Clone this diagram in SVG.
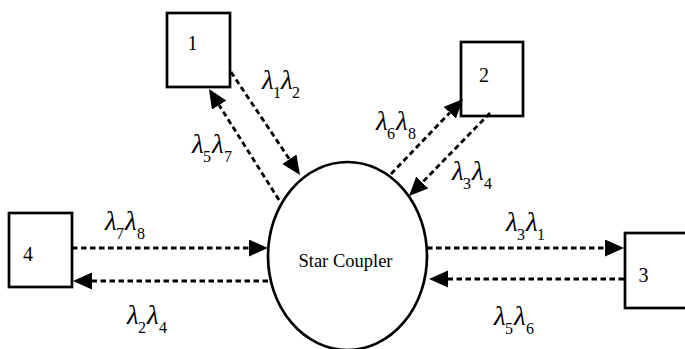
<svg xmlns="http://www.w3.org/2000/svg" width="685" height="349" viewBox="0 0 685 349">
  <style>
    .box { fill: #fff; stroke: #000; stroke-width: 2.7; }
    .hub { fill: #fff; stroke: #000; stroke-width: 2.7; }
    .num { font-family: "Liberation Serif", "Times New Roman", serif; font-size: 20px; fill: #000; text-anchor: middle; }
    .title { font-family: "Liberation Serif", "Times New Roman", serif; font-size: 18.5px; fill: #000; text-anchor: middle; }
    .lam { font-family: "Liberation Serif", "Times New Roman", serif; font-size: 27px; font-style: italic; fill: #000; }
    .sub { font-size: 16px; font-style: normal; }
    .link { fill: none; stroke: #000; stroke-width: 2.8; stroke-dasharray: 5.5 3.5; marker-end: url(#head); }
  </style>
  <defs>
    <marker id="head" markerUnits="userSpaceOnUse" markerWidth="20" markerHeight="18" refX="0" refY="8.5" orient="auto">
      <path d="M0,0 L19,8.5 L0,17 Z" fill="#000"/>
    </marker>
  </defs>

  <!-- star coupler -->
  <g id="coupler">
    <ellipse class="hub" cx="347.5" cy="256" rx="79.5" ry="94"/>
    <text class="title" x="345.5" y="267">Star Coupler</text>
  </g>

  <!-- stations -->
  <g id="node1">
    <rect class="box" x="167" y="13" width="63" height="74"/>
    <text class="num" x="192.5" y="50">1</text>
  </g>
  <g id="node2">
    <rect class="box" x="461" y="42" width="62" height="74"/>
    <text class="num" x="484" y="82">2</text>
  </g>
  <g id="node3">
    <rect class="box" x="625" y="233" width="63" height="75"/>
    <text class="num" x="643.5" y="282">3</text>
  </g>
  <g id="node4">
    <rect class="box" x="9" y="213" width="63" height="74"/>
    <text class="num" x="28" y="261">4</text>
  </g>

  <!-- dashed links; each line stops at the base of its arrowhead -->
  <g id="links">
    <line class="link" x1="231" y1="72" x2="289.4" y2="159.2"/>
    <line class="link" x1="279" y1="200" x2="219.1" y2="105.1"/>
    <line class="link" x1="391" y1="174" x2="449.8" y2="112.7"/>
    <line class="link" x1="490" y1="113" x2="422.3" y2="182.4"/>
    <line class="link" x1="72" y1="248" x2="249" y2="248"/>
    <line class="link" x1="268" y1="281" x2="92" y2="281"/>
    <line class="link" x1="427" y1="248" x2="605" y2="248"/>
    <line class="link" x1="624" y1="279" x2="448" y2="279"/>
  </g>

  <!-- wavelength labels: lambda with lowered index digits -->
  <g id="labels">
    <text class="lam" x="262" y="89">λ<tspan class="sub" x="273" y="98">1</tspan><tspan x="281" y="89">λ</tspan><tspan class="sub" x="292" y="98">2</tspan></text>
    <text class="lam" x="192" y="153">λ<tspan class="sub" x="203" y="162">5</tspan><tspan x="212" y="153">λ</tspan><tspan class="sub" x="224" y="162">7</tspan></text>
    <text class="lam" x="376" y="130">λ<tspan class="sub" x="387" y="139">6</tspan><tspan x="396" y="130">λ</tspan><tspan class="sub" x="408" y="139">8</tspan></text>
    <text class="lam" x="452" y="180">λ<tspan class="sub" x="463" y="189">3</tspan><tspan x="472" y="180">λ</tspan><tspan class="sub" x="484" y="189">4</tspan></text>
    <text class="lam" x="105" y="230">λ<tspan class="sub" x="116" y="239">7</tspan><tspan x="125" y="230">λ</tspan><tspan class="sub" x="137" y="239">8</tspan></text>
    <text class="lam" x="127" y="324">λ<tspan class="sub" x="138" y="333">2</tspan><tspan x="147" y="324">λ</tspan><tspan class="sub" x="159" y="333">4</tspan></text>
    <text class="lam" x="506" y="231">λ<tspan class="sub" x="517" y="240">3</tspan><tspan x="526" y="231">λ</tspan><tspan class="sub" x="537" y="240">1</tspan></text>
    <text class="lam" x="494" y="325">λ<tspan class="sub" x="505" y="334">5</tspan><tspan x="514" y="325">λ</tspan><tspan class="sub" x="526" y="334">6</tspan></text>
  </g>
</svg>
